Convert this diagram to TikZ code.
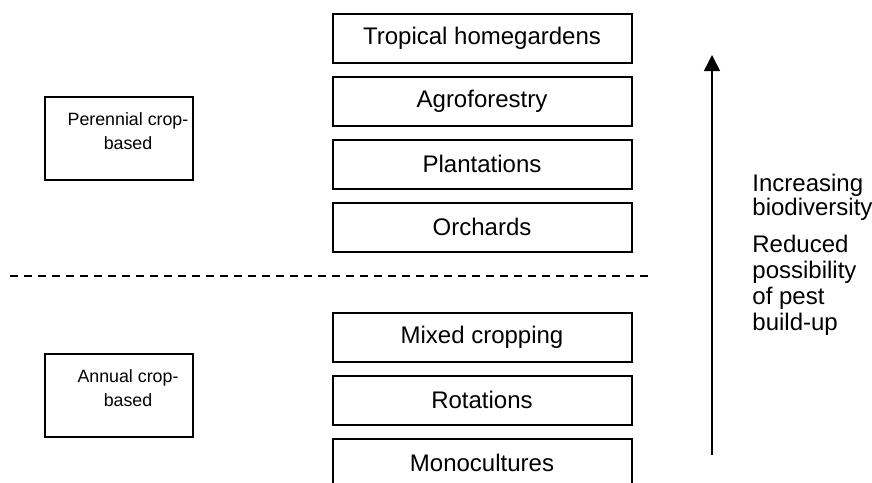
\documentclass[tikz,border=0pt]{standalone}
\usepackage{fontspec}
\setmainfont{Liberation Sans}
\usetikzlibrary{arrows.meta,positioning}

\begin{document}
\begin{tikzpicture}[
  x=0.5pt,y=-0.5pt,
  node distance=6pt,
  level/.style={draw,line width=1pt,minimum width=149.5pt,minimum height=24.5pt,
                font=\fontsize{12}{14}\selectfont,inner sep=0pt},
  group/.style={draw,line width=1pt,minimum width=74pt,minimum height=41.5pt,
                inner sep=0pt},
  grouplab/.style={font=\fontsize{8.9}{12}\selectfont,align=center,inner sep=0pt,
                   xshift=4.5pt},
  trendlab/.style={font=\fontsize{12}{13}\selectfont,align=left,inner sep=0pt},
  >={Triangle[length=8pt,width=8pt]}]
\useasboundingbox (0,0) rectangle (872,482);
\node[level] (tropical) at (482,38) {Tropical homegardens};
\node[level,below=of tropical] (agro) {Agroforestry};
\node[level,below=of agro] (plant) {Plantations};
\node[level,below=of plant] (orchard) {Orchards};
\node[level] (mixed) at (482,337) {Mixed cropping};
\node[level,below=of mixed] (rotation) {Rotations};
\node[level,below=of rotation] (mono) {Monocultures};
\node[group] (perennial) at (119,138.5) {};
\node[grouplab,below=8pt of perennial.north] (perenniallab) {Perennial crop-\\based};
\node[group] (annual) at (119,395.5) {};
\node[grouplab,below=8pt of annual.north] (annuallab) {Annual crop-\\based};
\coordinate (dashl) at (10,276);
\coordinate (dashr) at (648,276);
\draw[line width=0.8pt,dash pattern=on 4pt off 3pt] (dashl) -- (dashr);
\coordinate (trendtail) at (712,455);
\coordinate (trendtip) at (712,55);
\draw[->,line width=0.8pt] (trendtail) -- (trendtip);
\node[trendlab,font=\fontsize{12}{12}\selectfont,anchor=north west] (incr) at (752,174)
  {Increasing\\biodiversity};
\node[trendlab,below=7pt of incr.south west,anchor=north west] (reduced)
  {Reduced\\possibility\\of pest\\build-up};
\end{tikzpicture}
\end{document}
